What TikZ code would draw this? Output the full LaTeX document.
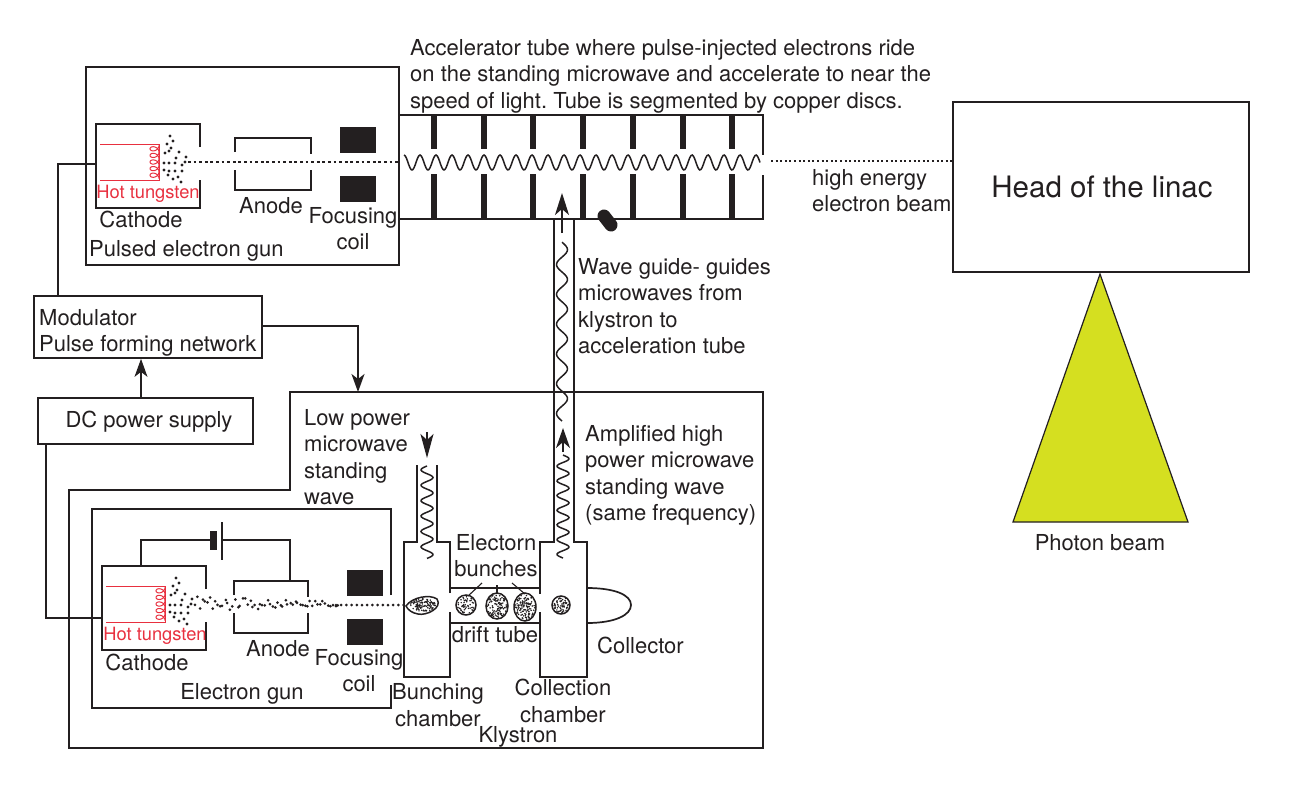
\documentclass[tikz,border=0pt]{standalone}
\usepackage{fontspec}
\setmainfont{TeX Gyre Heros}
\usetikzlibrary{arrows.meta,calc}
\definecolor{ink}{HTML}{231F20}
\definecolor{redwire}{HTML}{E8303F}
\definecolor{yellowbeam}{HTML}{D5DF20}
\frenchspacing
\tikzset{
  wire/.style={draw=ink,line width=1.7pt},
  boxnode/.style={draw=ink,line width=1.7pt,inner sep=0pt,fill=white},
  lbl/.style={text=ink,inner sep=0pt,font=\fontsize{22}{26.4}\selectfont,align=left,anchor=north west},
  clbl/.style={lbl,align=center,anchor=north},
  redlbl/.style={text=redwire,inner sep=0pt,font=\fontsize{18.3}{20}\selectfont,anchor=center},
  coilblock/.style={fill=ink,draw=none},
  arrowed/.style={wire,line width=1.4pt,-{Stealth[length=22pt,width=14pt,inset=6pt]}},
  wavy/.style={draw=ink,line width=1.5pt},
  disc/.style={fill=ink,draw=none},
  bunch/.style={draw=ink,line width=1.5pt,fill=white},
}
\newcommand{\dotsat}[5]{% cx cy rx ry n
  \foreach \i in {1,...,#5}{
    \pgfmathsetmacro{\rr}{sqrt(rnd)*0.9}
    \pgfmathsetmacro{\aa}{rnd*360}
    \fill[ink] ({#1+#3*\rr*cos(\aa)},{#2+#4*\rr*sin(\aa)}) circle (0.85);
  }}
\newcommand{\cathodeparts}{%
  \draw[wire] (200,147) -- (200,124) -- (96,124) -- (96,208) -- (200,208) -- (200,180);
  \draw[redwire,line width=1pt] (100,144) -- (159,144) -- (159,180) -- (100,180);
  \draw[redwire,line width=1pt] plot[smooth,domain=0:1800,samples=110] ({154.5+4.5*cos(\x)},{145.5+\x/360*6.6+3.6*sin(\x)});
  \foreach \p/\q in {170/136,173/141,167/144,171/148,165/153,169/151,179/152,176/158,186/157,164/163,169/163,175/163,182/165,185/162,164/170,169/171,175/171,182/171,168/175,173/179,178/177,181/182}
    \fill[ink] (\p,\q) circle (1.7);
}
\begin{document}
\begin{tikzpicture}[x=1pt,y=-1pt]
\useasboundingbox (0,0) rectangle (1297,785);
\pgfmathsetseed{4242}

% ---- top text
\node[lbl] (tubetext) at (410,39) {Accelerator tube where pulse-injected electrons ride\\on the standing microwave and accelerate to near the\\speed of light. Tube is segmented by copper discs.};

% ---- pulsed electron gun
\node[boxnode,fill=none,minimum width=313pt,minimum height=198pt] (gunbox) at (242.5,166) {};
\cathodeparts
\coordinate (cathA) at (96,164);
\draw[wire] (235,152) -- (235,138) -- (311,138) -- (311,154);
\draw[wire] (235,170) -- (235,190) -- (311,190) -- (311,170);
\draw[ink,line width=2.6pt,dash pattern=on 2.8pt off 2.8pt] (188,162) -- (399,162);
\fill[coilblock] (340,127) rectangle (376,153);
\fill[coilblock] (340,176) rectangle (376,202);
\node[redlbl] (hot1) at (148,194) {Hot tungsten};
\node[clbl] (cath1) at (141,211) {Cathode};
\node[clbl] (anode1) at (271,197) {Anode};
\node[clbl] (focus1) at (353,207) {Focusing\\coil};
\node[lbl] (gunlabel) at (89,240) {Pulsed electron gun};

% ---- accelerator tube
\draw[wire] (399,115) -- (763,115) -- (763,155);
\draw[wire] (763,175) -- (763,219) -- (399,219);
\foreach \x in {434,484,533,583,633,683,732}{
  \fill[disc] (\x-3,115) rectangle (\x+3,149);
  \fill[disc] (\x-3,174) rectangle (\x+3,219);
}
\draw[wavy] plot[smooth,domain=0:8010,samples=290] ({404+\x/360*16},{162.5-7.5*cos(\x)});
\draw[ink,line width=1.3pt,dash pattern=on 2pt off 2.6pt] (771,161) -- (953,161);
\node[lbl] (hee) at (812,169) {high energy\\electron beam};
\draw[line width=13pt,ink,line cap=round] (604,216) -- (611,225);

% ---- head and photon beam
\node[boxnode,minimum width=296pt,minimum height=170pt] (head) at (1101,187) {};
\node[text=ink,font=\fontsize{29.5}{32}\selectfont,inner sep=0pt] (headtext) at (1102,187) {Head of the linac};
\fill[yellowbeam,draw=ink,line width=1.2pt] (1100,274) -- (1013,522) -- (1188,522) -- cycle;
\node[text=ink,font=\fontsize{22}{24}\selectfont,inner sep=0pt] (photon) at (1100,543) {Photon beam};

% ---- modulator and DC supply
\node[boxnode,minimum width=228pt,minimum height=62pt] (mod) at (148,327) {};
\node[lbl] (modtext) at (39,309) {Modulator\\Pulse forming network};
\node[boxnode,minimum width=215pt,minimum height=46pt] (dc) at (145.5,421) {};
\node[text=ink,font=\fontsize{22}{24}\selectfont,inner sep=0pt] (dctext) at (149,422) {DC power supply};
\draw[wire,line width=1.4pt,-{Stealth[length=18pt,width=13pt,inset=5pt]}] (dc.north -| 141,0) -- (mod.south -| 141,0);
\draw[wire] (cathA) -- (58,164) -- (mod.north -| 58,0);

% ---- klystron housing
\draw[wire] (290,490) -- (290,392) -- (763,392) -- (763,748) -- (69,748) -- (69,490) -- cycle;
\coordinate (klyin) at (358,392);
\draw[wire,-{Stealth[length=18pt,width=13pt,inset=5pt]}] (mod.east |- 0,326) -- (358,326) -- (klyin);
\node[lbl] (lowp) at (304,409) {Low power\\microwave\\standing\\wave};
\node[lbl] (amp) at (585,425) {Amplified high\\power microwave\\standing wave\\(same frequency)};
\node[lbl] (wg) at (578,258) {Wave guide- guides\\microwaves from\\klystron to\\acceleration tube};

% ---- electron gun of klystron
\draw[wire] (391,595) -- (391,509) -- (92,509) -- (92,708) -- (391,708) -- (391,685);
\begin{scope}[shift={(6,442)}]
  \cathodeparts
\end{scope}
\coordinate (cathB) at (102,618);
\draw[wire] (dc.south -| 46,0) -- (46,618) -- (cathB);
% battery
\coordinate (cathTop) at (141,566);
\coordinate (anTop) at (290,581);
\draw[wire] (cathTop) -- (141,540) -- (212,540);
\fill[ink] (210,531) rectangle (217,550);
\draw[wire] (222,522) -- (222,560);
\draw[wire] (222,540) -- (290,540) -- (anTop);
\draw[wire] (234,595) -- (234,581) -- (308,581) -- (308,597);
\draw[wire] (234,613) -- (234,633) -- (308,633) -- (308,613);
\fill[coilblock] (347,570) rectangle (383,596);
\fill[coilblock] (347,619) rectangle (383,645);
% scattered beam
\foreach \i in {1,...,58}{
  \pgfmathsetmacro{\bx}{192+\i*2.5+rnd*1.5}
  \pgfmathsetmacro{\by}{604+(rnd-0.5)*(15-\i*0.18)}
  \fill[ink] (\bx,\by) circle (1.5);
}
\foreach \i in {0,...,13}{
  \fill[ink] ({336+\i*5.2},605) circle (1.5);
}
\node[redlbl] (hot2) at (155,636) {Hot tungsten};
\node[clbl] (cath2) at (147,654) {Cathode};
\node[clbl] (anode2) at (278,640) {Anode};
\node[clbl] (focus2) at (359,649) {Focusing\\coil};
\node[clbl] (gun2) at (242,683) {Electron gun};

% ---- bunching chamber
\draw[wire] (417,465) -- (417,542) -- (404,542) -- (404,677) -- (450,677) -- (450,612);
\draw[wire] (450,593) -- (450,542) -- (437,542) -- (437,465);
\draw[wire] (450,588) -- (540,588);
\draw[wire] (450,623) -- (540,623);
% ---- collection chamber
\draw[wire] (540,594) -- (540,542) -- (554,542) -- (554,219);
\draw[wire] (574,219) -- (574,542) -- (587,542) -- (587,677) -- (540,677) -- (540,612);
\coordinate (coll) at (631,605);
\draw[wire] (587,588) .. controls (615,588) and (631,595) .. (coll) .. controls (631,615) and (615,623) .. (587,623);
% microwaves
\draw[wavy] plot[smooth,domain=0:2160,samples=90] ({427-6*sin(\x)},{466+\x/360*15.4});
\draw[wavy] plot[smooth,domain=0:2520,samples=100] ({563-6*sin(\x)},{558-\x/360*14.7});
\draw[wavy] plot[smooth,domain=0:2160,samples=100] ({562-5.5*sin(\x)},{421-\x/360*29.8});
\coordinate (a1) at (427,432); \coordinate (a2) at (427,458);
\draw[arrowed,-{Stealth[length=24pt,width=13pt,inset=6pt]}] (a1) -- (a2);
\coordinate (a3) at (563,452); \coordinate (a4) at (563,428);
\draw[arrowed,-{Stealth[length=20pt,width=14pt,inset=6pt]}] (a3) -- (a4);
\coordinate (a5) at (562,233); \coordinate (a6) at (562,193);
\draw[arrowed] (a5) -- (a6);
% bunches
\draw[bunch] (406,606) .. controls (412,597) and (430,594) .. (437,599) .. controls (443,608) and (426,616) .. (418,614) .. controls (412,613) and (408,610) .. (406,606) -- cycle;
\dotsat{423}{605}{14}{7}{110}
\draw[bunch] (466,605) circle (10);
\dotsat{466}{605}{10}{10}{50}
\draw[bunch] (497,606) ellipse (11 and 13);
\dotsat{497}{606}{11}{13}{110}
\draw[bunch] (525,607) ellipse (11 and 14);
\dotsat{525}{607}{11}{14}{115}
\draw[bunch] (561,605) circle (9);
\dotsat{561}{605}{9}{9}{65}
\draw[wire,line width=1.1pt] (482,583) -- (468,596);
\draw[wire,line width=1.1pt] (497,585) -- (497,593);
\draw[wire,line width=1.1pt] (512,583) -- (525,594);
% ---- labels
\node[clbl] (elb) at (496,534) {Electorn\\bunches};
\node[clbl] (drift) at (495,626) {drift tube};
\node[lbl] (collector) at (597,637) {Collector};
\node[clbl] (bunchc) at (438,683) {Bunching\\[1pt]chamber};
\node[clbl] (collc) at (563,679) {Collection\\chamber};
\node[clbl] (kly) at (518,726) {Klystron};
\end{tikzpicture}
\end{document}
